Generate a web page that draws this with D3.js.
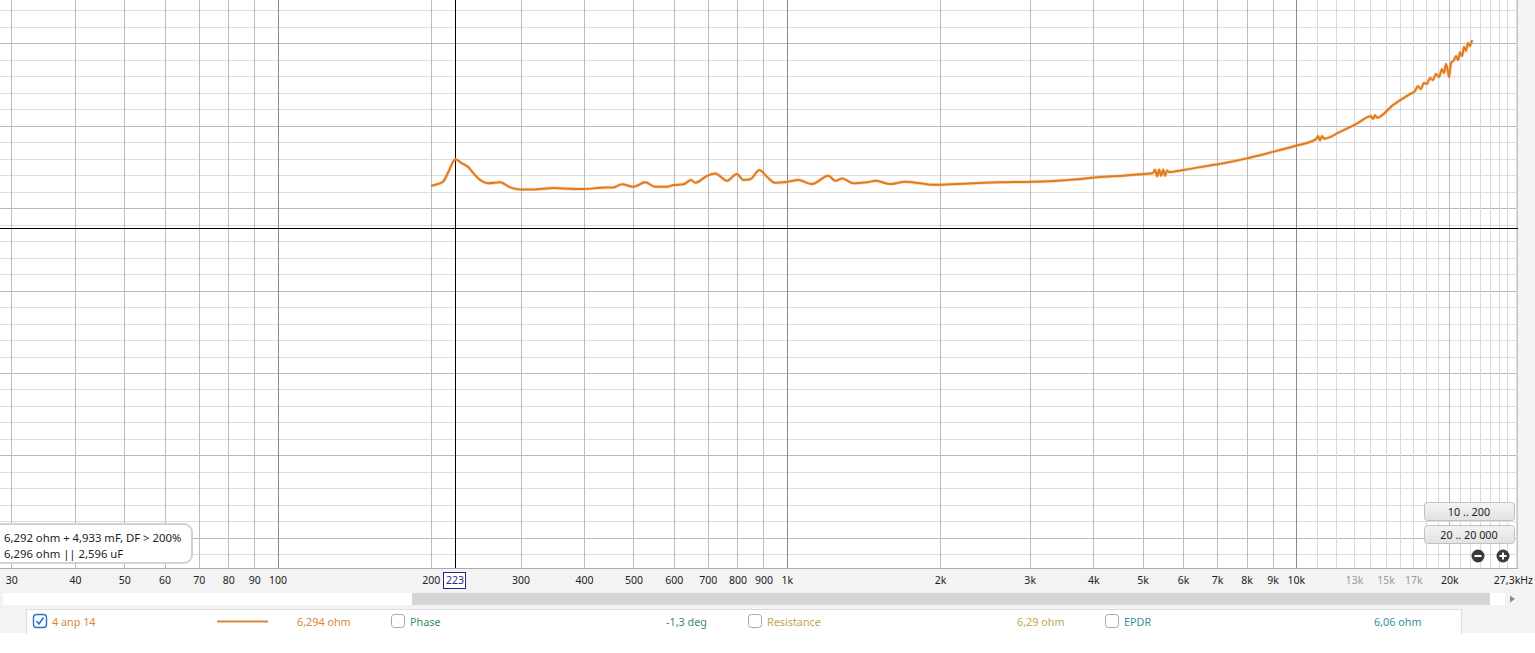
<!DOCTYPE html>
<html><head><meta charset="utf-8">
<script src="https://cdn.jsdelivr.net/npm/d3@7/dist/d3.min.js"></script>
<style>
html,body{margin:0;padding:0;background:#fff;overflow:hidden;}
svg{display:block;font-family:"Noto Sans","Open Sans",sans-serif;}
</style></head>
<body>
<svg id="chart" width="1535" height="653"></svg>
<script>
// ---- data ----
const freqHz = [200.1,205.6,211.2,216.6,223.4,230.3,237.1,242.6,250.0,259.6,273.7,286.3,299.6,318.2,348.3,381.3,400.7,430.1,456.7,474.4,
 500.0,527.2,551.6,581.6,599.2,626.9,649.1,660.9,696.8,723.5,762.8,798.0,822.2,847.4,884.0,914.0,949.0,1000,1054,1120,
 1207,1245,1285,1352,1437,1498,1596,1708,1828,1942,2094,2326,2624,3050,3340,3712,4124,4582,5017,5240,
 5289,5338,5386,5435,5485,5535,5585,5634,6009,6480,7201,8007,8895,9958,10952,11052,11153,11256,11357,12209,
 13122,14044,14171,14299,14431,15508,16749,17130,17365,17603,17843,18088,18336,18587,18842,19100,19362,19537,19714,19894,
 19984,20167,20443,20628,20815,21003,21197,21389,21582,21777,21973,22176];
const impedanceOhm = [6.133,6.144,6.159,6.220,6.295,6.271,6.247,6.210,6.170,6.150,6.156,6.125,6.113,6.113,6.121,6.115,6.115,6.123,6.125,6.144,
 6.129,6.156,6.129,6.129,6.139,6.144,6.170,6.153,6.194,6.210,6.165,6.206,6.170,6.174,6.230,6.190,6.153,6.158,6.170,6.145,
 6.196,6.165,6.179,6.150,6.156,6.165,6.145,6.159,6.150,6.141,6.144,6.150,6.156,6.159,6.164,6.174,6.188,6.196,6.206,6.212,
 6.232,6.192,6.232,6.196,6.232,6.196,6.228,6.218,6.230,6.248,6.271,6.301,6.336,6.376,6.418,6.436,6.410,6.436,6.420,6.462,
 6.509,6.556,6.540,6.562,6.548,6.624,6.691,6.709,6.739,6.721,6.758,6.752,6.788,6.776,6.812,6.794,6.842,6.818,6.873,6.824,
 6.794,6.879,6.897,6.921,6.897,6.945,6.921,6.976,6.952,7.000,6.982,7.018];

const xTickValues = [30,40,50,60,70,80,90,100,200,300,400,500,600,700,800,900,1000,2000,3000,4000,5000,6000,7000,8000,9000,10000,13000,15000,17000,20000];
const xTickLabels = ["30","40","50","60","70","80","90","100","200","300","400","500","600","700","800","900","1k","2k","3k","4k","5k","6k","7k","8k","9k","10k","13k","15k","17k","20k"];
const greyTickValues = [13000,15000,17000];
const endLabel = "27,3kHz";
const gridFreqs = [30,40,50,60,70,80,90,200,300,400,500,600,700,800,900,2000,3000,4000,5000,6000,7000,8000,9000,20000];
const fineGridFreqs = [11000,12000,13000,14000,15000,16000,17000,18000,19000,21000,22000,23000,24000,25000,26000,27000];
const decadeFreqs = [100,1000,10000];
const yMajorOhm = [4.0,4.5,5.0,5.5,6.0,6.5,7.0];
const yMinorOhm = [3.9,4.1,4.2,4.3,4.4,4.6,4.7,4.8,4.9,5.1,5.2,5.3,5.4,5.6,5.7,5.8,5.9,6.1,6.2,6.3,6.4,6.6,6.7,6.8,6.9,7.1,7.2];
const freqDomain = [28.5, 27300];
const ohmDomain = [3.818, 7.261];
const cursorFreq = 223, cursorOhm = 5.879, cursorLabel = "223";
const infoLines = ["6,292 ohm + 4,933 mF, DF > 200%", "6,296 ohm || 2,596 uF"];
const rangeButtons = ["10 .. 200", "20 .. 20 000"];
const legendNames = ["4 anp 14", "Phase", "Resistance", "EPDR"];
const legendValues = ["6,294 ohm", "-1,3 deg", "6,29 ohm", "6,06 ohm"];
const legendColors = ["#d4893a", "#3d8c5c", "#c4a64c", "#3b8f94"];
const legendChecked = [true, false, false, false];

// ---- layout ----
const W = 1535, H = 653;
const plotW = 1518, plotH = 568;
const svg = d3.select("#chart");
const x = d3.scaleLog().domain(freqDomain).range([0, plotW]);
const y = d3.scaleLinear().domain(ohmDomain).range([plotH, 0]);

// backgrounds
svg.append("rect").attr("x",0).attr("y",0).attr("width",W).attr("height",H).attr("fill","#fff");
svg.append("rect").attr("x",plotW).attr("y",0).attr("width",W-plotW).attr("height",plotH).attr("fill","#f3f3f3");
svg.append("rect").attr("x",0).attr("y",plotH).attr("width",W).attr("height",633-plotH).attr("fill","#f3f3f3");

const plot = svg.append("g");
// horizontal grid
plot.selectAll("line.hmin").data(yMinorOhm).join("line")
  .attr("x1",0).attr("x2",plotW).attr("y1",d=>Math.round(y(d))+0.5).attr("y2",d=>Math.round(y(d))+0.5)
  .attr("stroke","#dddddd").attr("stroke-width",1);
plot.selectAll("line.hmaj").data(yMajorOhm).join("line")
  .attr("x1",0).attr("x2",plotW).attr("y1",d=>Math.round(y(d))+0.5).attr("y2",d=>Math.round(y(d))+0.5)
  .attr("stroke","#b9b9b9").attr("stroke-width",1);
// vertical grid
plot.selectAll("line.vfine").data(fineGridFreqs).join("line")
  .attr("y1",0).attr("y2",plotH).attr("x1",d=>Math.round(x(d))+0.5).attr("x2",d=>Math.round(x(d))+0.5)
  .attr("stroke","#d9d9d9");
plot.selectAll("line.vmaj").data(gridFreqs).join("line")
  .attr("y1",0).attr("y2",plotH).attr("x1",d=>Math.round(x(d))+0.5).attr("x2",d=>Math.round(x(d))+0.5)
  .attr("stroke","#bcbcbc");
plot.selectAll("line.vdec").data(decadeFreqs).join("line")
  .attr("y1",0).attr("y2",plotH).attr("x1",d=>Math.round(x(d))+0.5).attr("x2",d=>Math.round(x(d))+0.5)
  .attr("stroke","#8a8a8a");
// borders
svg.append("line").attr("x1",0).attr("x2",plotW).attr("y1",plotH+0.5).attr("y2",plotH+0.5).attr("stroke","#aaaaaa");
svg.append("line").attr("x1",plotW-0.5).attr("x2",plotW-0.5).attr("y1",0).attr("y2",plotH).attr("stroke","#c8c8c8");

// cursor lines
svg.append("line").attr("x1",Math.round(x(cursorFreq))+0.5).attr("x2",Math.round(x(cursorFreq))+0.5)
  .attr("y1",0).attr("y2",plotH).attr("stroke","#000");
svg.append("line").attr("x1",0).attr("x2",plotW).attr("y1",Math.round(y(cursorOhm))+0.5).attr("y2",Math.round(y(cursorOhm))+0.5).attr("stroke","#000");

// curve
const pts = freqHz.map((f,i)=>[f, impedanceOhm[i]]);
const line = d3.line().x(d=>x(d[0])).y(d=>y(d[1])).curve(d3.curveMonotoneX);
svg.append("path").datum(pts).attr("d",line).attr("fill","none")
  .attr("stroke","#f2b57a").attr("stroke-width",3.4).attr("stroke-opacity",0.5).attr("stroke-linejoin","round");
svg.append("path").datum(pts).attr("d",line).attr("fill","none")
  .attr("stroke","#e17c1e").attr("stroke-width",2).attr("stroke-linejoin","round");

// x axis labels
const axis = d3.axisBottom(x).tickValues(xTickValues)
  .tickFormat((d,i)=>xTickLabels[i]).tickSize(0).tickPadding(0);
const gAxis = svg.append("g").attr("transform",`translate(0,${plotH})`).call(axis);
gAxis.select(".domain").remove();
gAxis.selectAll("text").attr("y",16).attr("dy",0).attr("font-size","10.5px")
  .attr("font-family","'Noto Sans',sans-serif")
  .attr("fill",d=>greyTickValues.includes(d)?"#9a9a9a":"#222");
svg.append("text").attr("x",1533).attr("y",plotH+16).attr("text-anchor","end")
  .attr("font-size","10.5px").attr("fill","#222").text(endLabel);
// cursor label box
const cx = x(cursorFreq);
svg.append("rect").attr("x",Math.round(cx)-11.5).attr("y",plotH+4.5).attr("width",22).attr("height",16)
  .attr("fill","#fff").attr("stroke","#1f2a85");
svg.append("text").attr("x",cx).attr("y",plotH+16).attr("text-anchor","middle")
  .attr("font-size","10.5px").attr("fill","#1f2a85").text(cursorLabel);

// scrollbar
svg.append("rect").attr("x",3).attr("y",593).attr("width",1502).attr("height",12).attr("fill","#fff");
svg.append("rect").attr("x",412).attr("y",593).attr("width",1078).attr("height",12).attr("fill","#d5d5d5");
svg.append("path").attr("d","M1510,595.5 L1515,599 L1510,602.5 Z").attr("fill","#8c8c8c");

// info box
svg.append("rect").attr("x",-8).attr("y",524).attr("width",200).attr("height",39).attr("rx",8)
  .attr("fill","#fff").attr("stroke","#d2d2d2").attr("stroke-width",2);
svg.selectAll("text.info").data(infoLines).join("text")
  .attr("x",4).attr("y",(d,i)=>541.5+i*16).attr("font-size","11.3px").attr("fill","#222").text(d=>d);

// range buttons
const defs = svg.append("defs");
const grad = defs.append("linearGradient").attr("id","btn").attr("x1",0).attr("x2",0).attr("y1",0).attr("y2",1);
grad.append("stop").attr("offset","0%").attr("stop-color","#f4f4f4");
grad.append("stop").attr("offset","100%").attr("stop-color","#e2e2e2");
rangeButtons.forEach((t,i)=>{
  svg.append("rect").attr("x",1424.5).attr("y",502.5+i*23).attr("width",90).attr("height",18).attr("rx",3)
    .attr("fill","url(#btn)").attr("stroke","#c2c2c2");
  svg.append("text").attr("x",1469).attr("y",515.5+i*23).attr("text-anchor","middle")
    .attr("font-size","10.8px").attr("fill","#222").text(t);
});
// zoom icons
[[1478,"-"],[1503,"+"]].forEach(([zx,s])=>{
  svg.append("circle").attr("cx",zx).attr("cy",556).attr("r",6.5).attr("fill","#3a3a3a");
  svg.append("line").attr("x1",zx-3.5).attr("x2",zx+3.5).attr("y1",556).attr("y2",556).attr("stroke","#fff").attr("stroke-width",2);
  if(s==="+") svg.append("line").attr("x1",zx).attr("x2",zx).attr("y1",552.5).attr("y2",559.5).attr("stroke","#fff").attr("stroke-width",2);
});

// legend panel
svg.append("rect").attr("x",26.5).attr("y",609.5).attr("width",1435).attr("height",30).attr("fill","#fff").attr("stroke","#dcdcdc");
svg.append("rect").attr("x",0).attr("y",634).attr("width",W).attr("height",H-634).attr("fill","#fff");
const boxX = [33,391,748,1105];
const nameX = [52,410,767,1124];
const valX = [297,666,1017,1374];
legendNames.forEach((n,i)=>{
  svg.append("rect").attr("x",boxX[i]+0.5).attr("y",614.5).attr("width",13).attr("height",13).attr("rx",3)
    .attr("fill","#fff").attr("stroke",legendChecked[i]?"#2f6fc0":"#a8a8a8").attr("stroke-width",legendChecked[i]?1.4:1);
  if(legendChecked[i]) svg.append("path").attr("d",`M${boxX[i]+3.5},621 L${boxX[i]+6},624 L${boxX[i]+10.5},617.5`)
    .attr("fill","none").attr("stroke","#2f6fc0").attr("stroke-width",1.6);
  svg.append("text").attr("x",nameX[i]).attr("y",625.5).attr("font-size","10.8px").attr("fill",legendColors[i]).text(n);
  svg.append("text").attr("x",valX[i]).attr("y",625.5).attr("font-size","10.8px").attr("fill",legendColors[i]).text(legendValues[i]);
});
svg.append("line").attr("x1",217).attr("x2",268).attr("y1",621.5).attr("y2",621.5).attr("stroke","#d4893a").attr("stroke-width",2);
</script>
</body></html>
